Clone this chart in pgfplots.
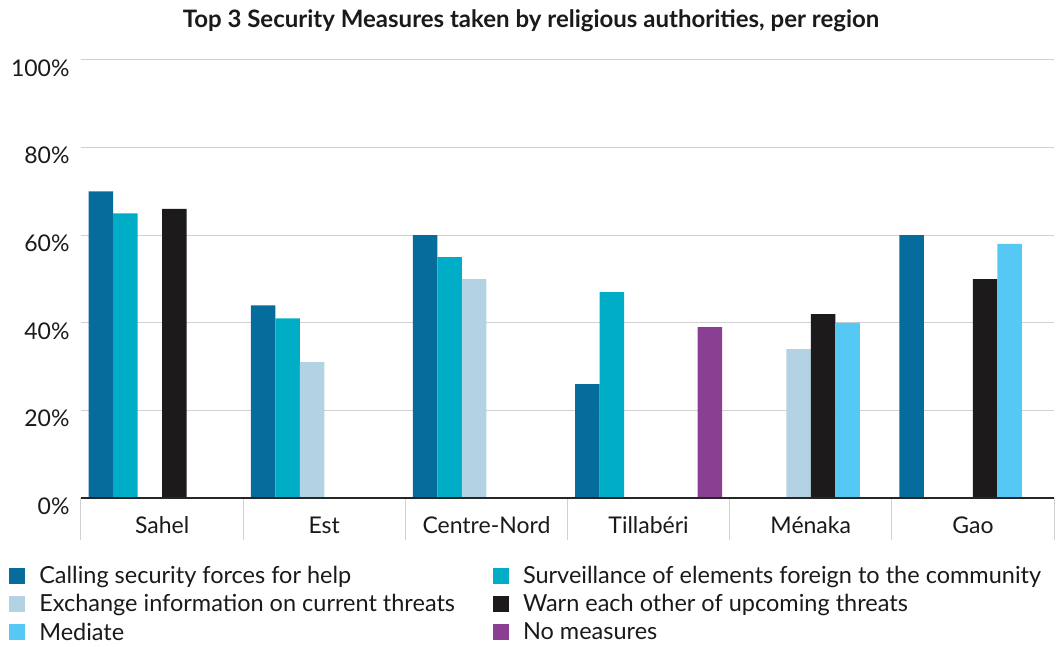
\documentclass[border=0pt]{standalone}
\usepackage{fontspec}
\setmainfont{Lato}
\usepackage{pgfplots}
\pgfplotsset{compat=1.18}
\definecolor{c1}{HTML}{066C9C}
\definecolor{c2}{HTML}{00ADC6}
\definecolor{c3}{HTML}{B3D3E4}
\definecolor{c4}{HTML}{1C1A1B}
\definecolor{c5}{HTML}{55C8F3}
\definecolor{c6}{HTML}{8B3F93}
\definecolor{txt}{HTML}{1A1A1A}
\begin{document}
\begin{tikzpicture}
\useasboundingbox (0,0) rectangle (1057pt,646pt);
\node[font=\fontsize{24}{28}\selectfont\bfseries, text=txt] at (531pt,625pt) {Top 3 Security Measures taken by religious authorities, per region};
\begin{axis}[
 at={(81pt,148pt)}, anchor=south west,
 width=973pt, height=438pt, scale only axis,
 clip=false,
 ymin=0, ymax=100, xmin=-0.5, xmax=5.5,
 ybar=0pt, bar width=24.5pt,
 axis line style={draw=none},
 ytick={0,20,...,100}, yticklabels={0\%,20\%,40\%,60\%,80\%,100\%},
 ymajorgrids, grid style={draw=black!18, line width=1pt},
 major tick length=0pt,
 xtick={0,...,5}, xticklabels={Sahel,Est,Centre-Nord,Tillabéri,Ménaka,Gao},
 xtick pos=bottom,
 extra x ticks={-0.5,0.5,1.5,2.5,3.5,4.5,5.5}, extra x tick labels={},
 extra x tick style={major tick length=42pt, tick align=outside, tick style={draw=black!18, line width=1pt}},
 ticklabel style={font=\fontsize{23}{27}\selectfont, text=txt},
 yticklabel style={xshift=-8pt, yshift=-8pt},
 xticklabel style={yshift=-15pt},
 legend columns=2,
 legend cell align=left,
 legend style={at={(-0.077,-0.146)}, anchor=north west, draw=none, fill=none,
   font=\fontsize{23.5}{28}\selectfont, text=txt, row sep=5.5pt,
   /tikz/every odd column/.append style={column sep=12pt},
   /tikz/every even column/.append style={column sep=36pt}},
 legend image code/.code={\fill[#1] (0pt,-8pt) rectangle (16pt,8pt);},
]
\addplot[fill=c1, draw=none] coordinates {(0,70)(1,44)(2,60)(3,26)(4,0)(5,60)};
\addplot[fill=c2, draw=none] coordinates {(0,65)(1,41)(2,55)(3,47)(4,0)(5,0)};
\addplot[fill=c3, draw=none] coordinates {(0,0)(1,31)(2,50)(3,0)(4,34)(5,0)};
\addplot[fill=c4, draw=none] coordinates {(0,66)(1,0)(2,0)(3,0)(4,42)(5,50)};
\addplot[fill=c5, draw=none] coordinates {(0,0)(1,0)(2,0)(3,0)(4,40)(5,58)};
\addplot[fill=c6, draw=none] coordinates {(0,0)(1,0)(2,0)(3,39)(4,0)(5,0)};
\legend{Calling security forces for help, Surveillance of elements foreign to the community, Exchange information on current threats, Warn each other of upcoming threats, Mediate, No measures}
\draw[black!85, line width=1.5pt] (axis cs:-0.5,0) -- (axis cs:5.5,0);
\end{axis}
\end{tikzpicture}
\end{document}
